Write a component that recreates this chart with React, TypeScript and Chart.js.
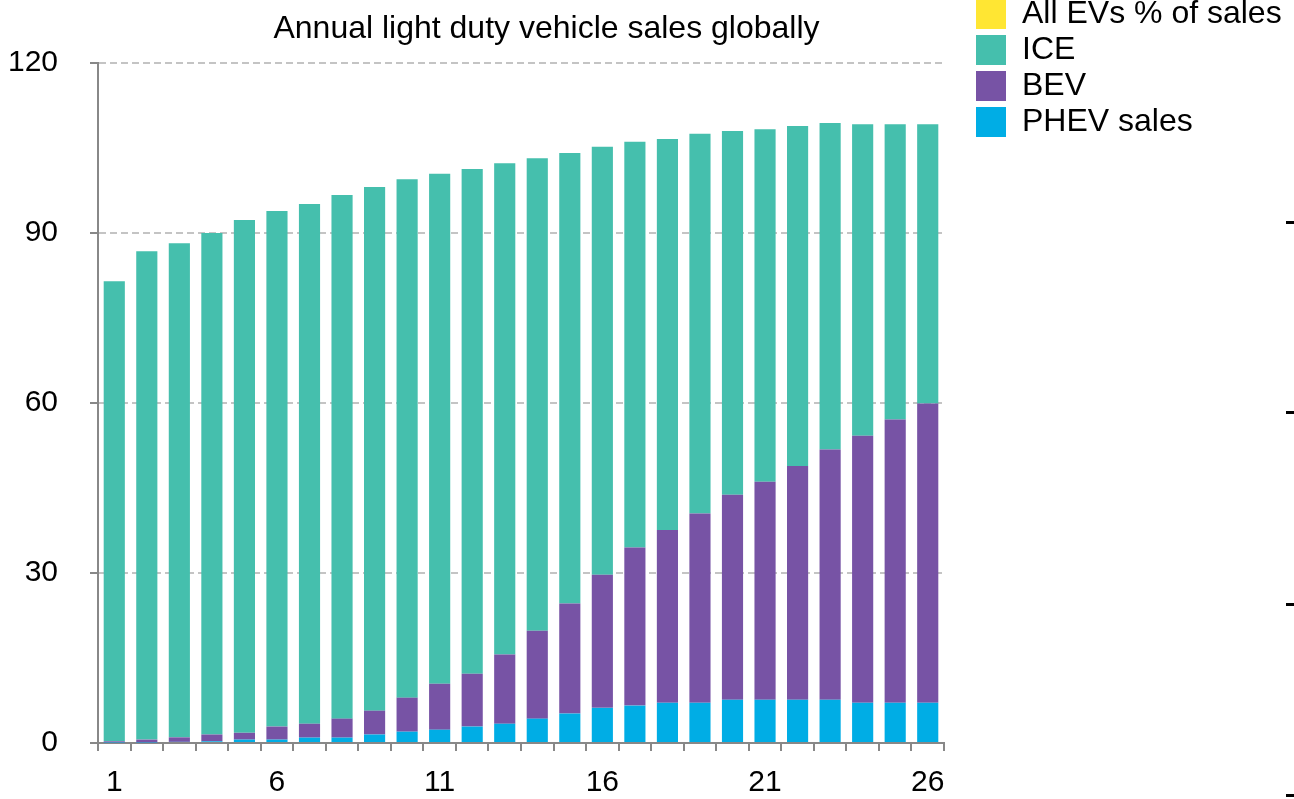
import React, { useEffect, useRef } from 'react';
import { Chart, registerables } from 'chart.js';

Chart.register(...registerables);

const categories = ['1', '2', '3', '4', '5', '6', '7', '8', '9', '10', '11', '12', '13', '14', '15', '16', '17', '18', '19', '20', '21', '22', '23', '24', '25', '26'];
const xTickLabels = ['1', '6', '11', '16', '21', '26'];

const phevSales = [0.1, 0.1, 0.2, 0.3, 0.6, 0.6, 0.95, 0.95, 1.5, 2.0, 2.35, 2.9, 3.4, 4.3, 5.2, 6.2, 6.6, 7.1, 7.1, 7.65, 7.65, 7.65, 7.65, 7.1, 7.1, 7.1];
const bevSales = [0.2, 0.5, 0.8, 1.2, 1.2, 2.3, 2.45, 3.35, 4.2, 6.0, 8.1, 9.3, 12.2, 15.5, 19.4, 23.5, 27.9, 30.5, 33.4, 36.15, 38.45, 41.25, 44.15, 47.1, 50.0, 52.8];
const iceSales = [81.2, 86.2, 87.2, 88.5, 90.5, 91.0, 91.7, 92.4, 92.4, 91.5, 90.0, 89.1, 86.7, 83.4, 79.5, 75.5, 71.6, 69.0, 67.0, 64.2, 62.2, 60.0, 57.6, 55.0, 52.1, 49.3];
const allEvShare: number[] = [];

const yMin = 0;
const yMax = 120;
const yStep = 30;

const chartTitle = 'Annual light duty vehicle sales globally';
const seriesNames = ['PHEV sales', 'BEV', 'ICE', 'All EVs % of sales'];
const seriesColors = ['#00ADE5', '#7753A5', '#45BFAD', '#FFE633'];

const FONT = '"Liberation Sans", Arial, Helvetica, sans-serif';

export default function App() {
  const ref = useRef<HTMLCanvasElement>(null);

  useEffect(() => {
    if (!ref.current) return;

    const decorPlugin = {
      id: 'decor',
      afterLayout(chart: any) {
        const lg = chart.legend;
        if (lg) {
          lg.left = 972;
          lg.right = 1300;
          lg.top = -6;
          lg.bottom = 220;
        }
      },
      afterDraw(chart: any) {
        const ctx = chart.ctx;
        ctx.save();
        ctx.font = `32px ${FONT}`;
        ctx.fillStyle = '#000';
        ctx.textAlign = 'center';
        ctx.textBaseline = 'alphabetic';
        ctx.fillText(chartTitle, 546.5, 38);
        for (const y of [222, 412, 604, 795]) ctx.fillRect(1286, y - 1, 8, 3);
        ctx.restore();
      },
    };

    const chart = new Chart(ref.current, {
      type: 'bar',
      data: {
        labels: categories,
        datasets: [
          { label: seriesNames[0], data: phevSales, backgroundColor: seriesColors[0], borderWidth: 0 },
          { label: seriesNames[1], data: bevSales, backgroundColor: seriesColors[1], borderWidth: 0 },
          { label: seriesNames[2], data: iceSales, backgroundColor: seriesColors[2], borderWidth: 0 },
          { label: seriesNames[3], data: allEvShare, backgroundColor: seriesColors[3], borderWidth: 0 },
        ],
      },
      options: {
        animation: false,
        responsive: false,
        maintainAspectRatio: false,
        devicePixelRatio: 1,
        datasets: { bar: { barPercentage: 0.65, categoryPercentage: 1.0 } },
        layout: { padding: { top: 63, right: 150, bottom: 0, left: 0 } },
        plugins: {
          title: { display: false },
          tooltip: { enabled: false },
          legend: {
            display: true,
            position: 'right',
            align: 'start',
            reverse: true,
            maxWidth: 200,
            labels: {
              boxWidth: 30,
              boxHeight: 30,
              padding: 4,
              color: '#000',
              font: { family: FONT, size: 32 },
            },
          },
        },
        scales: {
          x: {
            stacked: true,
            offset: true,
            grid: {
              display: true,
              drawOnChartArea: false,
              drawTicks: true,
              offset: true,
              tickLength: 8,
              color: '#888888',
              lineWidth: 2,
            },
            border: { display: true, color: '#888888', width: 2 },
            ticks: {
              autoSkip: false,
              maxRotation: 0,
              minRotation: 0,
              padding: 14,
              color: '#000',
              font: { family: FONT, size: 30 },
              callback: (_v: any, i: number) => (xTickLabels.includes(categories[i]) ? categories[i] : ''),
            },
            afterFit: (s: any) => {
              s.height = 56;
            },
          },
          y: {
            stacked: true,
            min: yMin,
            max: yMax,
            grid: {
              color: (c: any) => (c.tick && c.tick.value === 0 ? 'rgba(0,0,0,0)' : '#C4C4C4'),
              lineWidth: 2,
              tickColor: '#888888',
              tickWidth: 2,
              tickLength: 8,
              tickBorderDash: [],
            },
            border: { display: true, color: '#888888', width: 2, dash: [7, 4] },
            ticks: {
              stepSize: yStep,
              padding: 32,
              color: '#000',
              font: { family: FONT, size: 30 },
            },
            afterFit: (s: any) => {
              s.width = 98;
            },
          },
        },
      },
      plugins: [decorPlugin],
    } as any);

    return () => chart.destroy();
  }, []);

  return (
    <div style={{ position: 'fixed', left: 0, top: 0, width: 1294, height: 799, background: '#fff' }}>
      <canvas ref={ref} width={1294} height={799} style={{ width: 1294, height: 799, display: 'block' }} />
    </div>
  );
}
